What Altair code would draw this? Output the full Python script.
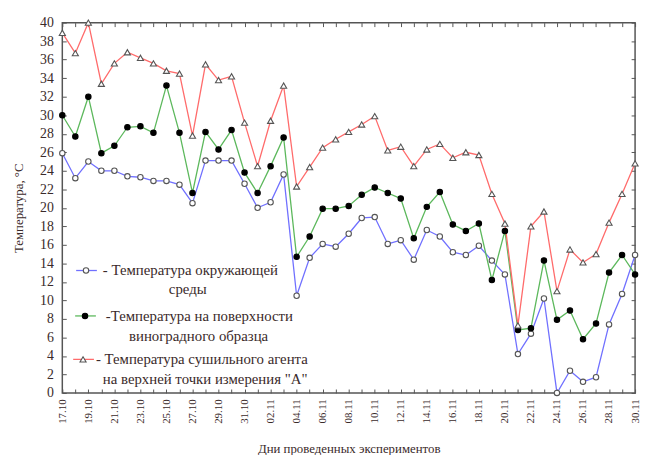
import altair as alt
import pandas as pd

days = ["17.10", "18.10", "19.10", "20.10", "21.10", "22.10", "23.10", "24.10", "25.10",
        "26.10", "27.10", "28.10", "29.10", "30.10", "31.10", "01.11", "02.11", "03.11",
        "04.11", "05.11", "06.11", "07.11", "08.11", "09.11", "10.11", "11.11", "12.11",
        "13.11", "14.11", "15.11", "16.11", "17.11", "18.11", "19.11", "20.11", "21.11",
        "22.11", "23.11", "24.11", "25.11", "26.11", "27.11", "28.11", "29.11", "30.11"]

ambient = [25.9, 23.2, 25.0, 24.0, 24.0, 23.4, 23.3, 22.9, 22.9, 22.5, 20.5, 25.1, 25.1,
           25.1, 22.6, 20.0, 20.6, 23.6, 10.5, 14.6, 16.1, 15.8, 17.2, 18.9, 19.0, 16.1,
           16.5, 14.4, 17.6, 16.9, 15.2, 14.9, 15.9, 14.3, 12.8, 4.2, 6.4, 10.2, 0.0, 2.4,
           1.2, 1.7, 7.4, 10.7, 14.9]

surface = [30.0, 27.7, 32.0, 25.9, 26.7, 28.7, 28.8, 28.1, 33.2, 28.1, 21.6, 28.2, 26.3,
           28.4, 23.8, 21.6, 24.5, 27.6, 14.7, 16.9, 19.9, 19.9, 20.2, 21.4, 22.2, 21.6,
           21.0, 16.7, 20.1, 21.7, 18.2, 17.5, 18.3, 12.2, 17.5, 6.8, 7.0, 14.3, 7.9, 8.9,
           5.8, 7.5, 13.0, 14.9, 12.8]

agent = [38.9, 36.7, 40.0, 33.4, 35.6, 36.8, 36.2, 35.6, 34.8, 34.5, 27.8, 35.5, 33.8,
         34.2, 29.2, 24.5, 29.4, 33.2, 22.3, 24.4, 26.5, 27.4, 28.2, 29.0, 29.9, 26.2,
         26.6, 24.5, 26.3, 26.9, 25.4, 26.0, 25.7, 21.5, 18.3, 7.3, 18.0, 19.6, 11.0, 15.5,
         14.1, 15.0, 18.4, 21.5, 24.8]

series_names = ["ambient", "surface", "agent"]
series_colors = ["#7070ff", "#5cb85c", "#ff6b6b"]
y_ticks = list(range(0, 41, 2))

legend_lines = [
    ["- Температура  окружающей", "среды"],
    ["-Температура на поверхности", "виноградного  образца"],
    ["- Температура сушильного агента", "на верхней  точки измерения \"А\""],
]

rows = []
for name, vals in zip(series_names, [ambient, surface, agent]):
    for d, v in zip(days, vals):
        rows.append({"day": d, "series": name, "value": v})
df = pd.DataFrame(rows)

W, H = 580, 375
FONT = "Liberation Serif"
TXT = "#3a2a2a"
AX = "#555555"

xs = alt.Scale(type="point", domain=days, padding=0)
ys = alt.Scale(domain=[0, 40], nice=False, zero=True)
color = alt.Color("series:N", scale=alt.Scale(domain=series_names, range=series_colors), legend=None)

base = alt.Chart(df)

lines = base.mark_line(strokeWidth=1.3).encode(
    x=alt.X("day:O", scale=xs, sort=days,
            axis=alt.Axis(orient="bottom", values=days[::2], labelAngle=270, tickSize=0,
                          labelFontSize=11, labelPadding=6, domain=False,
                          title="Дни проведенных экспериментов", titleFontSize=13,
                          titleFontWeight="normal", titlePadding=20)),
    y=alt.Y("value:Q", scale=ys,
            axis=alt.Axis(orient="left", values=y_ticks, tickSize=0, labelFontSize=14,
                          labelPadding=9, domain=False, title="Температура, °C",
                          titleFontSize=13, titleFontWeight="normal", titlePadding=14)),
    color=color,
    detail="series:N",
)

def pts(name, shape, fill, stroke, size):
    return base.transform_filter(alt.datum.series == name).mark_point(
        shape=shape, filled=True, fill=fill, stroke=stroke, strokeWidth=1.1, size=size, opacity=1
    ).encode(
        x=alt.X("day:O", scale=xs, sort=days, axis=None),
        y=alt.Y("value:Q", scale=ys, axis=None),
    )

p1 = pts("ambient", "circle", "white", "#555555", 30)
p2 = pts("surface", "circle", "black", "black", 30)
p3 = pts("agent", "triangle-up", "white", "#555555", 38)

def tick_layer(xaxis, yaxis):
    return base.mark_point(opacity=0).encode(
        x=alt.X("day:O", scale=xs, sort=days, axis=xaxis),
        y=alt.Y("value:Q", scale=ys, axis=yaxis),
    )

tick_kw = dict(labels=False, domain=False, title=None, tickSize=4, tickColor=AX, tickWidth=1)
t_top = tick_layer(alt.Axis(orient="bottom", offset=-H, **tick_kw), None)
t_bot = tick_layer(alt.Axis(orient="top", offset=-H, **tick_kw), None)
t_left = tick_layer(None, alt.Axis(orient="right", offset=-W, values=y_ticks, **tick_kw))
t_right = tick_layer(None, alt.Axis(orient="left", offset=-W, values=y_ticks, **tick_kw))

one = pd.DataFrame({"k": [0]})

def leg_entry(i, x1, x2, xm, y, shape, fill, stroke, size, tx, ty2, tx2, align2):
    c = series_colors[i]
    ln = alt.Chart(one).mark_rule(color=c, strokeWidth=1.3).encode(
        x=alt.value(x1), x2=alt.value(x2), y=alt.value(y))
    mk = alt.Chart(one).mark_point(shape=shape, filled=True, fill=fill, stroke=stroke,
                                   strokeWidth=1.1, size=size, opacity=1).encode(
        x=alt.value(xm), y=alt.value(y))
    t1 = alt.Chart(one).mark_text(align="left", baseline="middle", font=FONT, fontSize=15,
                                  color=TXT).encode(
        x=alt.value(tx), y=alt.value(y), text=alt.value(legend_lines[i][0]))
    t2 = alt.Chart(one).mark_text(align=align2, baseline="middle", font=FONT, fontSize=15,
                                  color=TXT).encode(
        x=alt.value(tx2), y=alt.value(ty2), text=alt.value(legend_lines[i][1]))
    return [ln, mk, t1, t2]

legend_layers = (
    leg_entry(0, 14, 35, 24, 251, "circle", "white", "#555555", 30, 41, 270, 127, "center")
    + leg_entry(1, 13, 34, 23, 297, "circle", "black", "black", 30, 44, 317, 138, "center")
    + leg_entry(2, 11, 32, 21, 341, "triangle-up", "white", "#555555", 38, 34, 361, 41, "left")
)

chart = alt.layer(
    t_top, t_bot, t_left, t_right, lines, p1, p2, p3, *legend_layers
).resolve_axis(x="independent", y="independent").properties(
    width=W, height=H,
    autosize=alt.AutoSizeParams(type="none"),
    padding={"left": 55, "top": 12, "right": 6, "bottom": 60},
).configure(font=FONT).configure_axis(
    labelFont=FONT, titleFont=FONT, labelColor=TXT, titleColor=TXT
).configure_view(stroke=AX, strokeWidth=1.5)

chart.save("out.html", embed_options={"renderer": "svg", "actions": False})
